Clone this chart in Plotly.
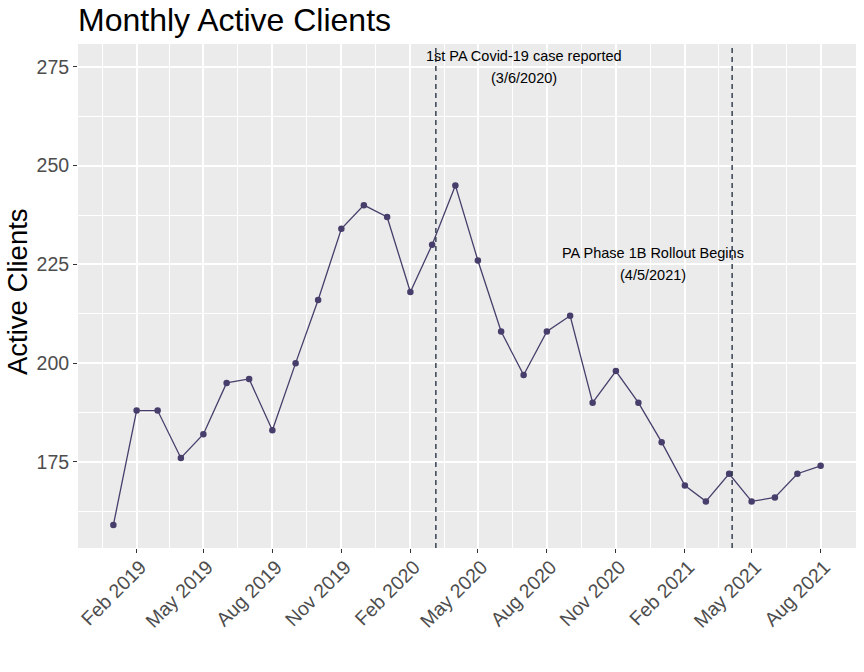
import plotly.graph_objects as go
import pandas as pd

# ---- data ----
months = pd.date_range("2019-01-01", "2021-08-01", freq="MS")
clients = [159, 188, 188, 176, 182, 195, 196, 183, 200, 216, 234, 240,
           237, 218, 230, 245, 226, 208, 197, 208, 212, 190, 198, 190,
           180, 169, 165, 172, 165, 166, 172, 174]

event_dates = ["2020-03-06", "2021-04-05"]
event_label_x = ["2020-07-01", "2020-12-20"]
event_label_y = [275, 225]
event_line1 = ["1st PA Covid-19 case reported", "PA Phase 1B Rollout Begins"]
event_line2 = ["(3/6/2020)", "(4/5/2021)"]

x_tickvals = pd.date_range("2019-02-01", "2021-08-01", freq="3MS")
x_ticktext = [d.strftime("%b %Y") for d in x_tickvals]
y_tickvals = [175, 200, 225, 250, 275]

# ---- scales (ggplot-like 5% expansion) ----
xmin, xmax = months.min(), months.max()
xpad = (xmax - xmin) * 0.05
x_range = [xmin - xpad, xmax + xpad]
all_y = clients + event_label_y
ypad = (max(all_y) - min(all_y)) * 0.05
y_range = [min(all_y) - ypad, max(all_y) + ypad]

# minor gridlines halfway between major breaks
ext = pd.date_range(x_tickvals[0] - pd.DateOffset(months=3),
                    x_tickvals[-1] + pd.DateOffset(months=3), freq="3MS")
x_minor = [ext[i] + (ext[i + 1] - ext[i]) / 2 for i in range(len(ext) - 1)]
y_minor = [v - 12.5 for v in y_tickvals] + [y_tickvals[-1] + 12.5]

LINE_COLOR = "#473E6B"
DASH_COLOR = "#2B3646"
FONT = "Liberation Sans, Arial, sans-serif"

W, H = 864, 672

fig = go.Figure()
fig.add_trace(go.Scatter(
    x=months, y=clients, mode="lines+markers",
    line=dict(color=LINE_COLOR, width=1.3),
    marker=dict(color=LINE_COLOR, size=6.5),
    showlegend=False, hoverinfo="x+y",
))

for d in event_dates:
    fig.add_shape(type="line", xref="x", yref="paper", x0=d, x1=d, y0=0, y1=1,
                  line=dict(color=DASH_COLOR, width=1.4, dash="5px,4px"))

for xl, yl, t1, t2 in zip(event_label_x, event_label_y, event_line1, event_line2):
    fig.add_annotation(x=xl, y=yl, text=t1, showarrow=False, yshift=11,
                       font=dict(size=14.5, color="black", family=FONT),
                       xanchor="center", yanchor="middle")
    fig.add_annotation(x=xl, y=yl, text=t2, showarrow=False, yshift=-11,
                       font=dict(size=14.5, color="black", family=FONT),
                       xanchor="center", yanchor="middle")

# y-axis title
fig.add_annotation(xref="paper", yref="paper", x=0, y=0.5, xshift=-61, yshift=4,
                   text="Active Clients", textangle=-90, showarrow=False,
                   xanchor="center", yanchor="middle",
                   font=dict(size=27.5, color="black", family=FONT))

axis_common = dict(
    showline=False, zeroline=False, automargin=False,
    gridcolor="white", gridwidth=1.6,
    ticks="outside", ticklen=4, tickwidth=1.1, tickcolor="#333333",
    tickfont=dict(size=19.5, color="#4D4D4D", family=FONT),
)

fig.update_xaxes(
    range=x_range, tickmode="array", tickvals=list(x_tickvals), ticktext=x_ticktext,
    tickangle=-45, ticklabelstandoff=-5, ticklabelshift=4,
    minor=dict(tickmode="array", tickvals=x_minor, showgrid=True,
               gridcolor="white", gridwidth=0.8, ticks=""),
    **axis_common,
)
fig.update_yaxes(
    range=y_range, tickmode="array", tickvals=y_tickvals,
    minor=dict(tickmode="array", tickvals=y_minor, showgrid=True,
               gridcolor="white", gridwidth=0.8, ticks=""),
    **axis_common,
)

fig.update_layout(
    width=W, height=H,
    margin=dict(l=78, r=8, t=44, b=124),
    paper_bgcolor="white", plot_bgcolor="#EBEBEB",
    font=dict(family=FONT),
    title=dict(text="Monthly Active Clients", x=0, xref="paper", xanchor="left",
               y=1 - 20 / H, yref="container", yanchor="middle",
               font=dict(size=32, color="black", family=FONT)),
)

fig.write_html("out.html", config={"displayModeBar": False},
               post_script="document.body.style.margin='0';")
